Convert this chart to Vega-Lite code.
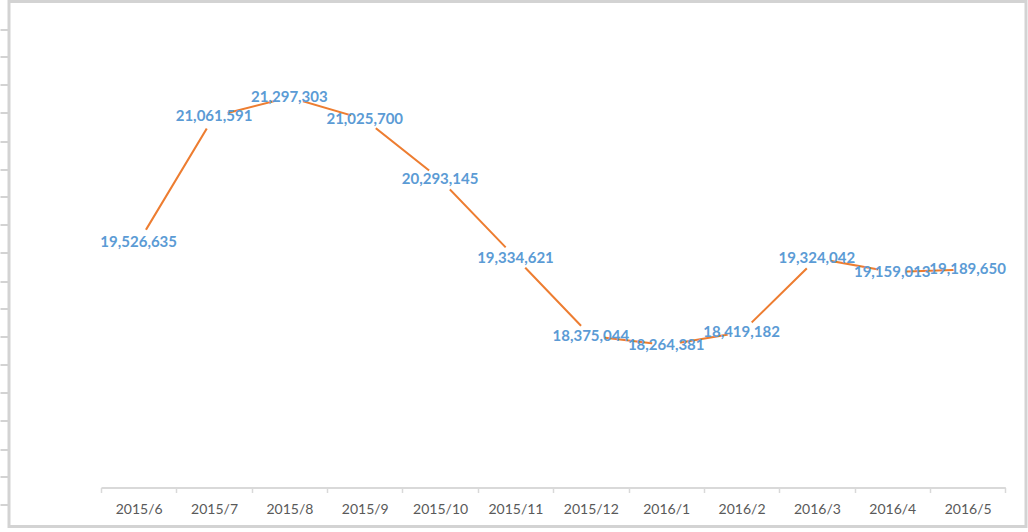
{
  "$schema": "https://vega.github.io/schema/vega-lite/v6.json",
  "width": 1017,
  "height": 525,
  "autosize": {"type": "none"},
  "padding": {"left": 9, "top": 1.5, "right": 2, "bottom": 5.5},
  "background": "white",
  "config": {
    "view": {"stroke": "#d3d3d3", "strokeWidth": 3}
  },
  "data": {
    "values": [
      {"month": "2015/6", "value": 19526635},
      {"month": "2015/7", "value": 21061591},
      {"month": "2015/8", "value": 21297303},
      {"month": "2015/9", "value": 21025700},
      {"month": "2015/10", "value": 20293145},
      {"month": "2015/11", "value": 19334621},
      {"month": "2015/12", "value": 18375044},
      {"month": "2016/1", "value": 18264381},
      {"month": "2016/2", "value": 18419182},
      {"month": "2016/3", "value": 19324042},
      {"month": "2016/4", "value": 19159013},
      {"month": "2016/5", "value": 19189650}
    ]
  },
  "encoding": {
    "x": {
      "field": "month",
      "type": "ordinal",
      "sort": null,
      "scale": {"type": "band", "paddingInner": 0, "paddingOuter": 0, "range": [92, 996.3]},
      "axis": {
        "title": null,
        "labelAngle": 0,
        "labelFont": "Lato",
        "labelFontSize": 14,
        "labelColor": "#595959",
        "labelPadding": 10,
        "domainColor": "#d9d9d9",
        "domainWidth": 2,
        "tickColor": "#d9d9d9",
        "tickWidth": 1.5,
        "tickSize": 5,
        "tickBand": "extent",
        "grid": false,
        "offset": -39
      }
    },
    "y": {
      "field": "value",
      "type": "quantitative",
      "scale": {"domain": [16042800, 22468800], "zero": false, "nice": false},
      "axis": {
        "title": null,
        "labels": false,
        "domain": false,
        "grid": false,
        "ticks": true,
        "tickColor": "#d3d3d3",
        "tickWidth": 2,
        "tickSize": 9,
        "values": [22132200, 21789500, 21446800, 21104100, 20761300, 20418600, 20075900, 19733200, 19390500, 19047700, 18705000, 18362300, 18019600, 17676900, 17334200, 16991400, 16648700, 16306000]
      }
    }
  },
  "layer": [
    {
      "mark": {"type": "line", "color": "#ED7D31", "strokeWidth": 2}
    },
    {
      "mark": {"type": "point", "shape": "circle", "filled": true, "color": "white", "opacity": 1, "size": 800, "strokeWidth": 0}
    },
    {
      "mark": {"type": "text", "font": "Lato", "fontSize": 15, "fontWeight": "bold", "color": "#5B9BD5", "baseline": "middle", "align": "center"},
      "encoding": {
        "text": {"field": "value", "type": "quantitative", "format": ","}
      }
    }
  ]
}
